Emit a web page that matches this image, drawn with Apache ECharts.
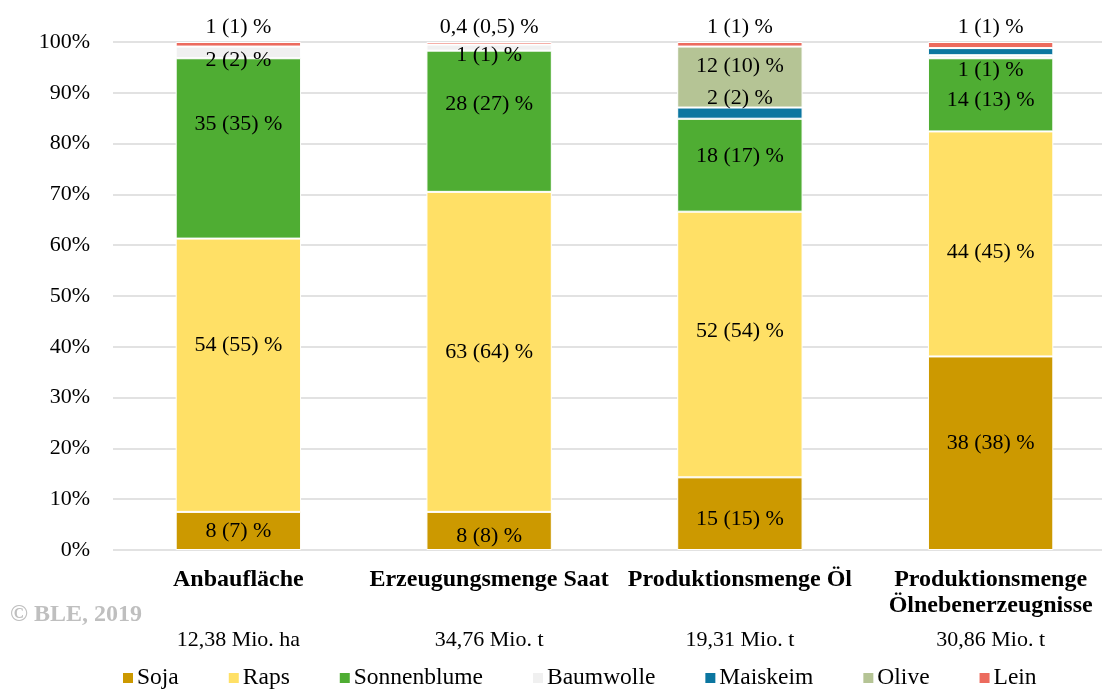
<!DOCTYPE html>
<html>
<head>
<meta charset="utf-8">
<script src="https://cdn.jsdelivr.net/npm/echarts@6/dist/echarts.min.js"></script>
<style>
  html, body { margin: 0; padding: 0; background: #fff; }
  #chart { width: 1102px; height: 691px; }
</style>
</head>
<body>
<div id="chart"></div>
<script>
// categories and totals under the bars
const categories = ["Anbaufläche", "Erzeugungsmenge Saat", "Produktionsmenge Öl", "Produktionsmenge\nÖlnebenerzeugnisse"];
const totals = ["12,38 Mio. ha", "34,76 Mio. t", "19,31 Mio. t", "30,86 Mio. t"];

// shares in %
const soja = [7.5, 7.5, 14.3, 38.1];
const raps = [53.8, 63.0, 52.3, 44.3];
const sonnenblume = [35.5, 27.8, 18.3, 14.4];
const baumwolle = [2.3, 1.2, 0, 0.6];
const maiskeim = [0, 0, 2.2, 1.4];
const olive = [0, 0, 12.0, 0];
const lein = [0.9, 0.5, 0.9, 1.2];

// label texts: current (previous year)
const sojaLabels = ["8 (7) %", "8 (8) %", "15 (15) %", "38 (38) %"];
const rapsLabels = ["54 (55) %", "63 (64) %", "52 (54) %", "44 (45) %"];
const sonnenLabels = ["35 (35) %", "28 (27) %", "18 (17) %", "14 (13) %"];
const baumwolleLabels = ["2 (2) %", "1 (1) %", "", "1 (1) %"];
const maiskeimLabels = ["", "", "2 (2) %", ""];
const oliveLabels = ["", "", "12 (10) %", ""];
const leinLabels = ["1 (1) %", "0,4 (0,5) %", "1 (1) %", "1 (1) %"];

const yTicks = [0, 10, 20, 30, 40, 50, 60, 70, 80, 90, 100];

const font = "'Liberation Serif', 'Times New Roman', serif";

function makeSeries(name, color, values, labels, offsets, pos) {
  return {
    name: name,
    type: "bar",
    stack: "total",
    barWidth: "50%",
    itemStyle: { color: color, borderColor: "#fff", borderWidth: 1 },
    label: {
      show: true,
      position: pos || "inside",
      distance: 4,
      color: "#000",
      fontFamily: font,
      fontSize: 22,
      formatter: function (p) { return labels[p.dataIndex]; }
    },
    data: values.map(function (v, i) {
      return { value: v, label: { offset: [0, offsets ? offsets[i] : 0] } };
    })
  };
}

const chart = echarts.init(document.getElementById("chart"));
chart.setOption({
  animation: false,
  grid: { left: 113, width: 1003, top: 42, bottom: 141, containLabel: false, outerBoundsMode: "none" },
  xAxis: {
    type: "category",
    data: categories,
    axisLine: { show: false },
    axisTick: { show: false },
    axisLabel: {
      interval: 0,
      margin: 17,
      color: "#000",
      fontFamily: font,
      formatter: function (v, i) {
        const parts = v.split("\n");
        const l1 = "{b|" + parts[0] + "}";
        const l2 = "{b|" + (parts[1] || " ") + "}";
        return l1 + "\n" + l2 + "\n{u|" + totals[i] + "}";
      },
      rich: {
        b: { fontFamily: font, fontWeight: "bold", fontSize: 24, lineHeight: 26, color: "#000" },
        u: { fontFamily: font, fontSize: 22, lineHeight: 42, color: "#000" }
      }
    }
  },
  yAxis: {
    type: "value",
    min: 0,
    max: 100,
    interval: 10,
    axisLine: { show: false },
    axisTick: { show: false },
    splitLine: { lineStyle: { color: "#d9d9d9", width: 1.5 } },
    axisLabel: {
      margin: 23,
      color: "#000",
      fontFamily: font,
      fontSize: 22,
      formatter: function (v) { return yTicks.indexOf(v) >= 0 ? v + "%" : ""; }
    }
  },
  legend: {
    left: 116,
    bottom: -4,
    itemWidth: 12,
    itemHeight: 12,
    itemGap: 48,
    icon: "rect",
    textStyle: { fontFamily: font, fontSize: 23.5, color: "#000", padding: [0, 0, 0, -2] },
    data: ["Soja", "Raps", "Sonnenblume", "Baumwolle", "Maiskeim", "Olive", "Lein"]
  },
  graphic: [{
    type: "text",
    left: 10,
    top: 603,
    style: { text: "© BLE, 2019", font: "bold 24px " + font, fill: "#bfbfbf" }
  }],
  series: [
    makeSeries("Soja", "#cc9900", soja, sojaLabels, [0, 5, 6, -10]),
    makeSeries("Raps", "#ffe066", raps, rapsLabels, [-30, 0, -13, 8]),
    makeSeries("Sonnenblume", "#4fad33", sonnenblume, sonnenLabels, [-24, -17, -9, 5]),
    makeSeries("Baumwolle", "#f0f0f0", baumwolle, baumwolleLabels, [8, 8, 0, 13]),
    makeSeries("Maiskeim", "#0b76a0", maiskeim, maiskeimLabels, [0, 0, -15, 0]),
    makeSeries("Olive", "#b5c495", olive, oliveLabels, [0, 0, -11, 0]),
    makeSeries("Lein", "#ec6b5e", lein, leinLabels, null, "top")
  ]
});
</script>
</body>
</html>
